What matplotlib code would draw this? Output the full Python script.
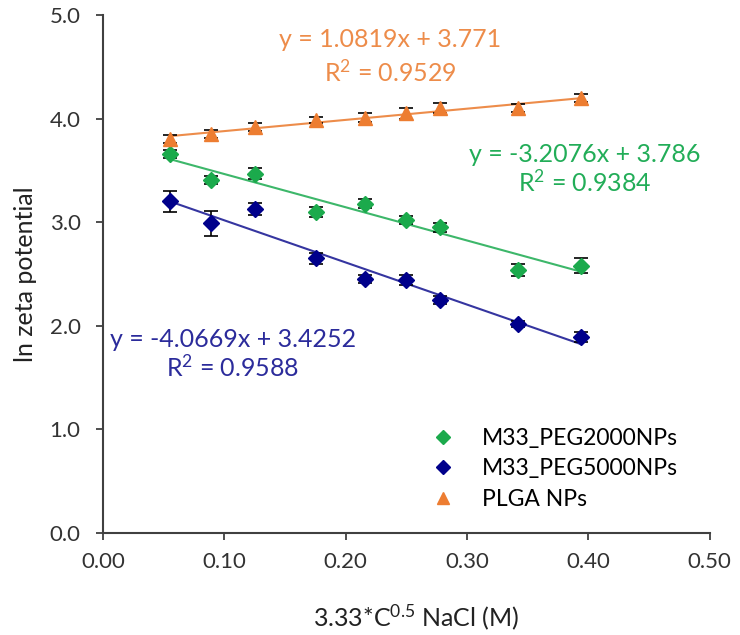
import numpy as np
import matplotlib
matplotlib.use("Agg")
import matplotlib.pyplot as plt

plt.rcParams["font.family"] = ["Lato", "DejaVu Sans"]
plt.rcParams["mathtext.default"] = "regular"

x = [0.055, 0.089, 0.125, 0.176, 0.216, 0.250, 0.278, 0.342, 0.394]

peg2000 = [3.66, 3.41, 3.47, 3.10, 3.18, 3.02, 2.95, 2.54, 2.58]
peg2000_err = [0.04, 0.04, 0.05, 0.05, 0.04, 0.04, 0.04, 0.06, 0.07]
peg5000 = [3.20, 2.99, 3.13, 2.65, 2.45, 2.44, 2.25, 2.02, 1.89]
peg5000_err = [0.10, 0.12, 0.06, 0.05, 0.04, 0.05, 0.04, 0.03, 0.05]
plga = [3.80, 3.85, 3.92, 3.99, 4.01, 4.05, 4.10, 4.10, 4.20]
plga_err = [0.04, 0.04, 0.04, 0.03, 0.04, 0.05, 0.05, 0.04, 0.04]

labels = ["M33_PEG2000NPs", "M33_PEG5000NPs", "PLGA NPs"]
slopes = [-3.2076, -4.0669, 1.0819]
intercepts = [3.786, 3.4252, 3.771]
r2 = ["0.9384", "0.9588", "0.9529"]
eq_text = ["y = -3.2076x + 3.786", "y = -4.0669x + 3.4252", "y = 1.0819x + 3.771"]

marker_colors = ["#1BAA4C", "#00008B", "#ED7D31"]
line_colors = ["#3DB76A", "#3535A0", "#ED8C4A"]
text_colors = ["#22AD58", "#2B2B9B", "#ED8C4A"]
markers = ["D", "D", "^"]
msizes = [8.5, 8.5, 10.5]

fig = plt.figure(figsize=(7.4, 6.35), dpi=100)
ax = fig.add_axes([0.139, 0.1606, 0.820, 0.8158])

xs = np.array([min(x), max(x)])
series = [(peg2000, peg2000_err), (peg5000, peg5000_err), (plga, plga_err)]
for i, (ys, err) in enumerate(series):
    ax.plot(xs, slopes[i] * xs + intercepts[i], color=line_colors[i], lw=1.5, zorder=2)
    ax.errorbar(x, ys, yerr=err, fmt="none", ecolor="black", elinewidth=1.2,
                capsize=5, capthick=1.2, zorder=3)
    ax.plot(x, ys, linestyle="none", marker=markers[i], ms=msizes[i],
            color=marker_colors[i], label=labels[i], zorder=4)

# trendline labels (eq line, R^2 line)
txt_pos = [(0.397, 3.65, 3.38), (0.107, 1.87, 1.60), (0.237, 4.76, 4.45)]
for i, (tx, ty1, ty2) in enumerate(txt_pos):
    ax.text(tx, ty1, eq_text[i], color=text_colors[i], fontsize=18, ha="center", va="center")
    ax.text(tx, ty2, "R$^2$ = " + r2[i], color=text_colors[i], fontsize=18, ha="center", va="center")

ax.set_xlim(0, 0.5)
ax.set_ylim(0, 5)
ax.set_xticks(np.arange(0, 0.51, 0.1))
ax.set_xticklabels(["%.2f" % v for v in np.arange(0, 0.51, 0.1)])
ax.set_yticks(np.arange(0, 5.1, 1))
ax.set_yticklabels(["%.1f" % v for v in np.arange(0, 5.1, 1)])
ax.tick_params(labelsize=16, length=5, width=1.3, color="#404040", labelcolor="#333333")
ax.tick_params(axis="x", pad=9)
ax.tick_params(axis="y", pad=11)
for s in ["top", "right"]:
    ax.spines[s].set_visible(False)
for s in ["left", "bottom"]:
    ax.spines[s].set_color("#404040")
    ax.spines[s].set_linewidth(1.5)

ax.set_xlabel("3.33*C$^{0.5}$ NaCl (M)", fontsize=18, color="#222222", va="center")
ax.xaxis.set_label_coords(0.517, -0.162)
ax.set_ylabel("ln zeta potential", fontsize=18, color="#222222", va="center")
ax.yaxis.set_label_coords(-0.128, 0.5)

ax.legend(loc="center left", bbox_to_anchor=(420.5 / 740, 1 - 469 / 635),
          bbox_transform=fig.transFigure, frameon=False, fontsize=16.5,
          handlelength=1.0, handletextpad=1.2, labelspacing=0.4, borderpad=0,
          markerscale=0.8)

fig.savefig("out.png", dpi=100)
